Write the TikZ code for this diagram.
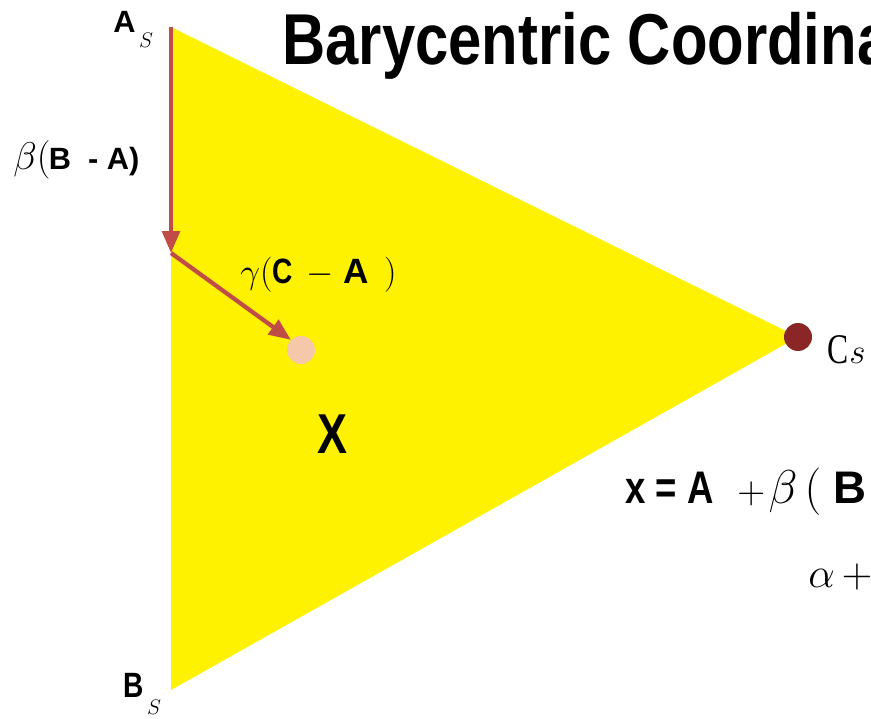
\RequirePackage{fix-cm}
\documentclass[tikz,border=0pt]{standalone}
\usepackage{fontspec}
\newfontfamily\condfont{Liberation Sans}[FakeStretch=0.8]
\newfontfamily\titlefont{Liberation Sans}[FakeStretch=0.83]
\newfontfamily\widefont{Liberation Sans}
\newfontfamily\serifC{Liberation Serif}[FakeStretch=0.75]
\usetikzlibrary{arrows.meta}
\definecolor{arrowred}{RGB}{192,76,72}
\definecolor{dotred}{RGB}{138,38,38}
\definecolor{dotpeach}{RGB}{244,200,168}
\newcommand{\fsz}[1]{\fontsize{#1}{#1}\selectfont}
\tikzset{
  vec/.style={draw=arrowred, line width=2.4pt, -{Triangle[length=12.5pt,width=10pt]}},
  lab/.style={anchor=base west, inner sep=0pt},
  dot/.style={circle, minimum size=0.56cm, inner sep=0pt}
}

\begin{document}
\begin{tikzpicture}[x=0.02cm,y=-0.02cm]
\useasboundingbox (0,0) rectangle (871,719);
\clip (0,0) rectangle (871,719);
% triangle corners
\coordinate (As) at (171,27);
\coordinate (Bs) at (171,690);
\coordinate (Cs) at (798,337);
\coordinate (mid) at (171,253);
\fill[yellow] (As) -- (Cs) -- (Bs) -- cycle;

% points
\node[dot, fill=dotpeach] (x) at (301,350) {};
\node[dot, fill=dotred] (c) at (Cs) {};

% steps
\draw[vec] (As) -- (mid);
\draw[vec] (mid) -- (x.north west);

% labels
\node[lab] (la) at (113,33) {\widefont\bfseries\fsz{17.5}A\hspace{2pt}\raisebox{-8.5pt}{\fsz{12}$S$}};
\node[lab] (lb) at (123,697) {\condfont\bfseries\fsz{20}B\hspace{2pt}\raisebox{-10pt}{\fsz{12}$S$}};
\node[lab] (lc) at (827,363) {\serifC\fsz{24}C\hspace{0.5pt}{\fsz{20}$s$}};
\node[lab] (beta) at (13,170) {{\fsz{22}$\beta($}\hspace{-1pt}\widefont\bfseries\fsz{17.5}B\ \ -\ A)};
\node[lab] (gamma) at (240,283) {\fsz{20}$\gamma($\hspace{0pt}{\condfont\bfseries C}\hspace{8pt}$-$\hspace{5pt}{\widefont\bfseries A}\hspace{9pt}$)$};
\node[lab] (lx) at (317,453) {\condfont\bfseries\fsz{32}X};
\node[lab] (title) at (282,65) {\titlefont\bfseries\fsz{41}Barycentric Coordinates};
\node[lab] (eqa) at (625,503) {\condfont\bfseries\fsz{26}x = A};
\node[lab] (eqb) at (737,503) {{\fsz{22}$+$}\hspace{2pt}{\fsz{27}$\beta\hspace{4pt}($}\hspace{7pt}{\widefont\bfseries\fsz{26}B}};
\node[lab] (eqc) at (808,587) {{\fsz{24}$\alpha$}\hspace{4pt}{\fsz{24}$+$}};
\end{tikzpicture}
\end{document}
